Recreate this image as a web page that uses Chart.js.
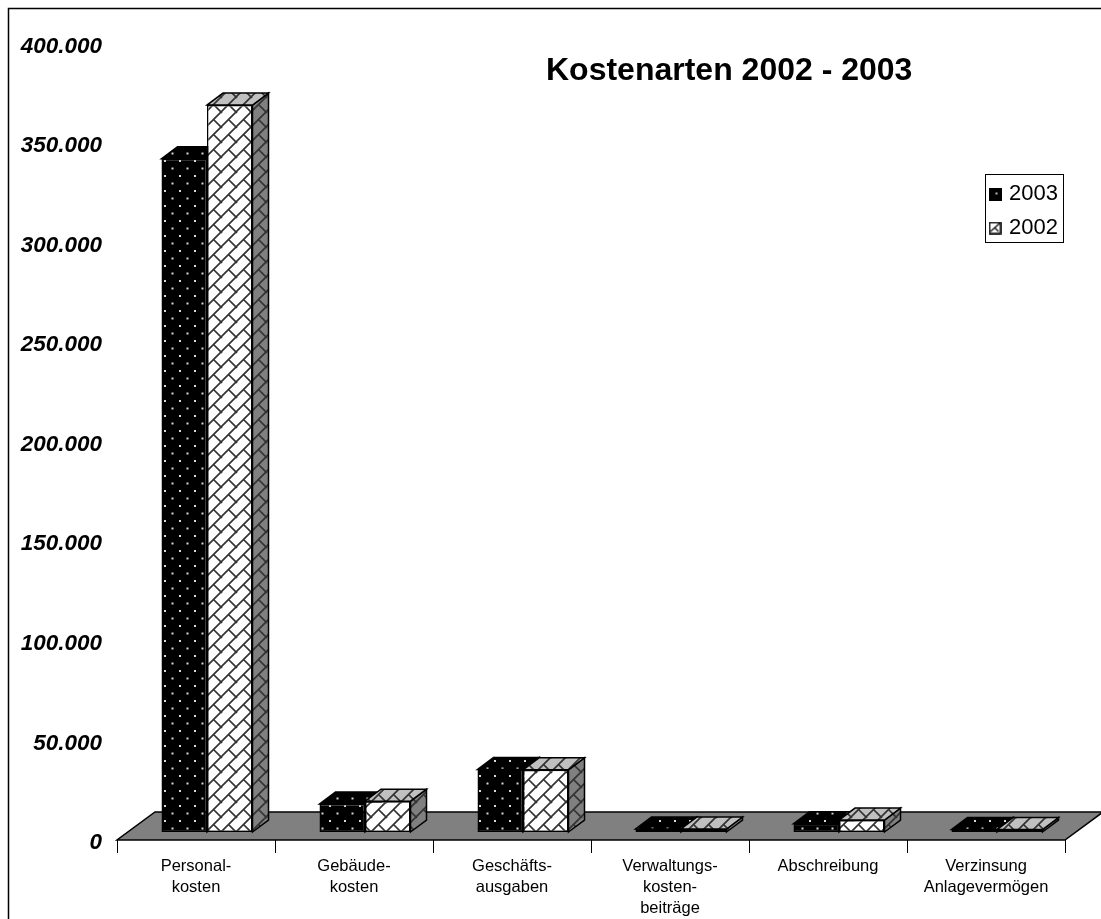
<!DOCTYPE html>
<html lang="de">
<head>
<meta charset="utf-8">
<title>Kostenarten 2002 - 2003</title>
<script src="https://cdn.jsdelivr.net/npm/chart.js@4"></script>
<style>html,body{margin:0;padding:0;background:#fff;overflow:hidden}canvas{display:block}</style>
</head>
<body>
<canvas id="c" width="1101" height="919"></canvas>
<script>
const categories = [
  ["Personal-", "kosten"],
  ["Gebäude-", "kosten"],
  ["Geschäfts-", "ausgaben"],
  ["Verwaltungs-", "kosten-", "beiträge"],
  ["Abschreibung"],
  ["Verzinsung", "Anlagevermögen"]
];
const seriesNames = ["2003", "2002"];
const values2003 = [338000, 14000, 31400, 1500, 4200, 1200];
const values2002 = [365000, 15500, 31200, 1500, 6000, 1200];
const titleText = "Kostenarten 2002 - 2003";

const FONT = '"Liberation Sans", Arial, sans-serif';
const DEPTH_X = 16, DEPTH_Y = 12;      // bar extrusion
const SHIFT_X = 11, SHIFT_Y = 8;       // bars stand mid-way on the floor
const FLOOR_X = 38, FLOOR_Y = 28;      // floor depth

function tile(w, h, paint) {
  const t = document.createElement('canvas');
  t.width = w; t.height = h;
  paint(t.getContext('2d'), w, h);
  return t;
}
function dots(ctx, w, h) {
  ctx.fillStyle = '#000'; ctx.fillRect(0, 0, w, h);
  ctx.fillStyle = '#d8d8d8';
  ctx.fillRect(3, 3, 2, 2);
  ctx.fillRect(10.5, 10.5, 2, 2);
}
function brick(bg) {
  return (ctx, w, h) => {
    ctx.fillStyle = bg; ctx.fillRect(0, 0, w, h);
    ctx.strokeStyle = '#333333'; ctx.lineWidth = 1.7;
    ctx.beginPath();
    ctx.moveTo(-2, h + 2); ctx.lineTo(w + 2, -2);
    ctx.moveTo(w / 2, h / 2); ctx.lineTo(w + 1, h + 1);
    ctx.moveTo(-1, -1); ctx.lineTo(1, 1);
    ctx.stroke();
  };
}
const pctx = document.getElementById('c').getContext('2d');
const pat = (c) => pctx.createPattern(c, 'repeat');
const dotFill = pat(tile(15, 15, dots));
const brickFront = pat(tile(15, 15, brick('#ffffff')));
const brickTop = pat(tile(15, 15, brick('#c0c0c0')));
const brickSide = pat(tile(15, 15, brick('#808080')));

const legendIcon2003 = tile(13, 13, (c, w, h) => {
  c.fillStyle = '#000'; c.fillRect(0, 0, w, h);
  c.fillStyle = '#bbb'; c.fillRect(7, 5, 2, 2);
});
const legendIcon2002 = tile(13, 13, (c, w, h) => {
  c.fillStyle = '#fff'; c.fillRect(0, 0, w, h);
  c.strokeStyle = '#000'; c.lineWidth = 1.6; c.strokeRect(1, 1, w - 2, h - 2);
  c.lineWidth = 1.2; c.beginPath(); c.moveTo(2, 10); c.lineTo(11, 2);
  c.moveTo(6, 6); c.lineTo(10, 10); c.stroke();
});

function poly(ctx, pts, fill) {
  ctx.beginPath();
  pts.forEach((p, i) => i ? ctx.lineTo(p[0], p[1]) : ctx.moveTo(p[0], p[1]));
  ctx.closePath();
  if (fill) { ctx.fillStyle = fill; ctx.fill(); }
  ctx.stroke();
}

const scene = {
  id: 'scene',
  afterLayout(chart) {
    const t = chart.titleBlock;
    t.left = 546; t.right = 1000; t.top = 52; t.bottom = 90; t.width = 454;
    const l = chart.legend;
    l.left = 980; l.top = 171; l.right = l.left + 100; l.width = 100;
    l.bottom = l.top + 400; l.height = 400;
  },
  beforeDraw(chart) {
    const ctx = chart.ctx;
    ctx.save();
    ctx.strokeStyle = '#000'; ctx.lineWidth = 1.5;
    ctx.beginPath();
    ctx.moveTo(8.5, 919); ctx.lineTo(8.5, 8.5); ctx.lineTo(1101, 8.5);
    ctx.stroke();
    ctx.lineWidth = 1;
    ctx.strokeRect(985.5, 174.5, 78, 68);
    ctx.restore();
  },
  beforeDatasetsDraw(chart) {
    const ctx = chart.ctx;
    const a = chart.chartArea;
    ctx.save();
    ctx.strokeStyle = '#000';
    ctx.lineWidth = 1.5;
    ctx.lineJoin = 'miter';
    poly(ctx, [[a.left, a.bottom], [a.right, a.bottom],
      [a.right + FLOOR_X, a.bottom - FLOOR_Y], [a.left + FLOOR_X, a.bottom - FLOOR_Y]], '#808080');
    ctx.translate(SHIFT_X, -SHIFT_Y);
    chart.data.datasets.forEach((ds, di) => {
      const meta = chart.getDatasetMeta(di);
      const isDark = di === 0;
      meta.data.forEach((el) => {
        const p = el.getProps(['x', 'y', 'base', 'width'], true);
        const L = p.x - p.width / 2, R = p.x + p.width / 2, T = p.y, B = p.base;
        poly(ctx, [[R, B], [R + DEPTH_X, B - DEPTH_Y], [R + DEPTH_X, T - DEPTH_Y], [R, T]],
          isDark ? dotFill : brickSide);
        poly(ctx, [[L, T], [R, T], [R + DEPTH_X, T - DEPTH_Y], [L + DEPTH_X, T - DEPTH_Y]],
          isDark ? dotFill : brickTop);
        el.draw(ctx);
      });
    });
    ctx.restore();
  },
  beforeDatasetDraw() { return false; }
};

new Chart(document.getElementById('c'), {
  type: 'bar',
  plugins: [scene],
  data: {
    labels: categories,
    datasets: [
      { label: seriesNames[0], data: values2003, backgroundColor: dotFill, borderColor: '#000', borderWidth: 1.5,
        borderSkipped: false, categoryPercentage: 0.576, barPercentage: 1 },
      { label: seriesNames[1], data: values2002, backgroundColor: brickFront, borderColor: '#000', borderWidth: 1.5,
        borderSkipped: false, categoryPercentage: 0.576, barPercentage: 1 }
    ]
  },
  options: {
    responsive: false,
    devicePixelRatio: 1,
    animation: false,
    events: [],
    layout: { padding: { top: 5, right: 36, left: 0, bottom: 0 } },
    plugins: {
      tooltip: { enabled: false },
      title: {
        display: true, text: titleText, align: 'start', color: '#000', padding: 0,
        font: { family: FONT, size: 32, weight: 'bold', lineHeight: 1.2 }
      },
      legend: {
        display: true, position: 'chartArea', align: 'start',
        labels: {
          color: '#000', padding: 12, boxHeight: 13, pointStyleWidth: 6, usePointStyle: true,
          font: { family: FONT, size: 22 },
          generateLabels: () => seriesNames.map((n, i) => ({
            text: n, datasetIndex: i, hidden: false, fontColor: '#000', lineWidth: 0,
            pointStyle: i === 0 ? legendIcon2003 : legendIcon2002
          }))
        }
      }
    },
    scales: {
      x: {
        afterFit(s) { s.height = 79; },
        border: { display: false },
        grid: { drawOnChartArea: false, drawTicks: true, tickLength: 13, color: '#000', lineWidth: 1, offset: true },
        ticks: { color: '#000', padding: 3, autoSkip: false, maxRotation: 0, minRotation: 0,
          font: { family: FONT, size: 16.5, lineHeight: 1.27 } }
      },
      y: {
        min: 0, max: 400000,
        afterFit(s) { s.width = 117; },
        border: { display: false },
        grid: { display: false, drawTicks: false },
        ticks: { stepSize: 50000, color: '#000', padding: 15, labelOffset: 3,
          font: { family: FONT, size: 22.5, weight: 'bold', style: 'italic' },
          callback: (v) => v === 0 ? '0' : String(v / 1000) + '.000' }
      }
    }
  }
});
</script>
</body>
</html>
